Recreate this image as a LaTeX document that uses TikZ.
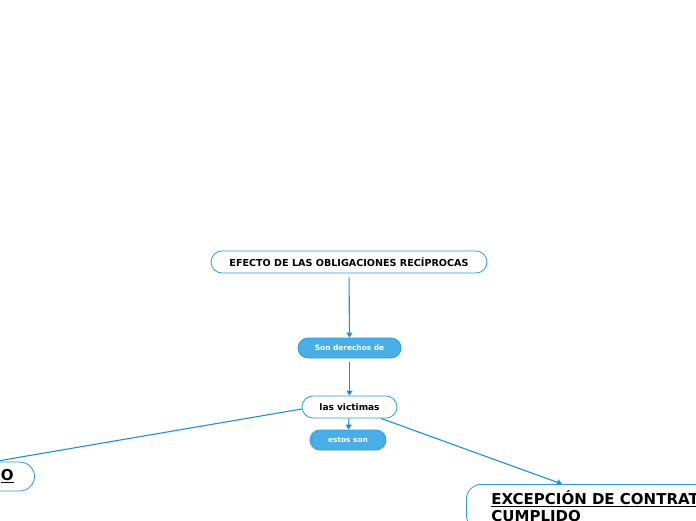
\documentclass[tikz,border=0pt]{standalone}
\usepackage{fontspec}
\setmainfont{DejaVu Sans}
\usetikzlibrary{arrows.meta, positioning}
\definecolor{mmblue}{HTML}{2E9AE2}
\definecolor{mmfill}{HTML}{4AAEE6}
\definecolor{mmline}{HTML}{1F8FDD}

\begin{document}
\begin{tikzpicture}[x=1pt, y=-1pt,
    topic/.style={draw=mmblue, line width=0.8pt, fill=white, rounded corners=11pt, minimum height=22pt, inner sep=0pt},
    subtopic/.style={draw=mmblue, line width=0.8pt, fill=mmfill, text=white, rounded corners=10pt, minimum height=20pt, inner sep=0pt, font=\bfseries\fontsize{7.4}{8}\selectfont},
    bigtopic/.style={draw=mmblue, line width=0.8pt, fill=white, rounded corners=15pt, font=\bfseries\fontsize{15}{17.5}\selectfont},
    link/.style={draw=mmline, line width=1.1pt, -{Triangle[length=5pt, width=6pt]}}]
  \useasboundingbox (0,0) rectangle (696,520);
  \clip (0,0) rectangle (696,520);
  % main topic
  \node[topic, minimum width=276pt, font=\bfseries\fontsize{9.6}{11}\selectfont] (efecto) at (349,262) {EFECTO DE LAS OBLIGACIONES RECÍPROCAS};
  % middle chain
  \node[subtopic, minimum width=103pt] (son) at (349.5,348) {Son derechos de};
  \node[topic, minimum width=95pt, font=\bfseries\fontsize{9}{10}\selectfont] (vict) at (349.5,407) {las victimas};
  \node[subtopic, minimum width=76pt] (estos) at (348,440) {estos son};
  % lower branches
  \node[bigtopic, anchor=east, minimum height=29pt, text width=180pt, inner xsep=21pt, inner ysep=0pt, align=right] (lft) at (35,476.5) {\underline{O}};
  \node[bigtopic, anchor=north west, inner xsep=25pt, inner ysep=6pt, align=left] (exc) at (466,484) {\underline{EXCEPCIÓN DE CONTRATO NO}\\\underline{CUMPLIDO}};
  % connectors
  \draw[link, shorten <=4pt] (efecto) -- (son);
  \draw[link, shorten <=4pt] (son) -- (vict);
  \draw[link] (vict) -- (estos);
  \draw[link] ([yshift=-2pt]vict.west) -- ([xshift=-41pt]lft.north east);
  \draw[link] (vict) -- ([xshift=96pt]exc.north west);
\end{tikzpicture}
\end{document}
